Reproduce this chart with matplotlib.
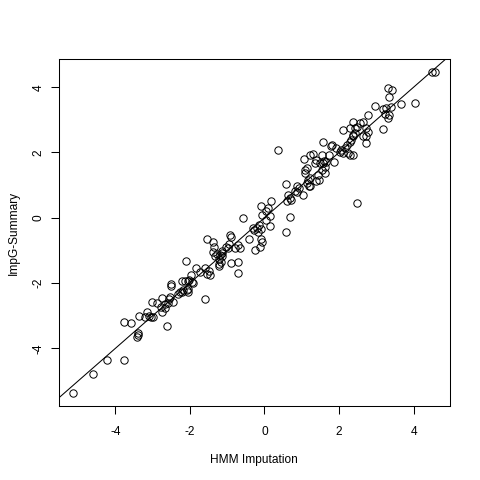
import matplotlib
matplotlib.use("Agg")
import matplotlib.pyplot as plt
import numpy as np

plt.rcParams['font.family'] = ['Liberation Sans', 'DejaVu Sans']

hmm_imputation = [
    -5.13, -4.60, -4.23, -3.78, -3.77, -3.58, -3.40, -3.40, -3.42, -3.36,
    -3.21, -3.16, -3.09, -3.03, -3.02, -2.99, -2.89, -2.76, -2.78, -2.76,
    -2.62, -2.66, -2.67, -2.58, -2.56, -2.53, -2.46, -2.52, -2.51, -2.33,
    -2.27, -2.22, -2.18, -2.20, -2.12, -2.05, -2.02, -1.96, -1.95, -1.91,
    -2.05, -2.08, -2.04, -2.10, -1.83, -1.73, -1.60, -1.50, -1.47, -1.53,
    -1.59, -1.53, -1.39, -1.36, -1.38, -1.32, -1.26, -1.20, -1.15, -1.13,
    -1.22, -1.22, -1.16, -1.13, -1.04, -0.98, -0.95, -0.93, -0.91, -0.80,
    -0.71, -0.90, -0.70, -0.72, -1.23, -0.66,
    -0.57, -0.41, -0.26, -0.13, -0.06, -0.10, -0.31, -0.28, -0.20, -0.14,
    -0.17, -0.08, 0.14, -0.08, 0.10, 0.05, -0.06, 0.15, 0.03, 0.17,
    0.57, 0.68, 0.57, 0.87, 0.83, 0.62, 0.68, 0.61, 0.72, 0.36,
    0.86, 0.93, 1.03, 1.20, 1.13, 1.17, 1.08, 1.10, 1.13, 1.05,
    1.21, 1.29, 1.39, 1.35, 1.48, 1.54, 1.57, 1.66, 1.72, 1.62,
    1.44, 1.46, 1.86, 1.82, 1.57, 1.78, 1.91, 2.02, 2.06, 2.11,
    2.15, 2.21, 2.29, 2.33, 2.38, 2.42, 2.47, 2.38, 2.11, 2.24,
    2.49, 1.21, 1.38, 1.21, 1.55, 1.59, 1.62,
    4.48, 4.58, 3.30, 3.42, 3.33, 2.96, 3.18, 3.27, 3.40, 3.67,
    4.03, 3.23, 3.33, 3.31, 3.18, 2.78, 2.64, 2.55, 2.42, 2.29,
    2.73, 2.78, 2.73, 2.64, 2.73, 2.38, 2.38, 2.29,
]

impg_summary = [
    -5.37, -4.79, -4.37, -4.35, -3.18, -3.21, -3.53, -3.60, -3.66, -3.01,
    -3.03, -2.87, -3.00, -3.03, -2.59, -3.05, -2.61, -2.47, -2.73, -2.87,
    -3.32, -2.64, -2.75, -2.61, -2.48, -2.43, -2.59, -2.02, -2.09, -2.32,
    -2.26, -2.26, -2.22, -1.94, -1.93, -1.95, -1.89, -1.74, -1.96, -2.00,
    -2.18, -2.22, -2.28, -1.31, -1.55, -1.67, -1.55, -1.62, -1.74, -1.72,
    -2.48, -0.64, -0.74, -0.88, -1.06, -1.16, -1.10, -1.14, -1.08, -1.18,
    -1.25, -1.41, -1.35, -1.03, -0.88, -0.93, -0.80, -0.54, -0.60, -0.93,
    -0.82, -1.37, -1.35, -1.69, -1.49, -0.91,
    0.00, -0.65, -1.00, -0.90, -0.74, -0.65, -0.31, -0.37, -0.31, -0.21,
    -0.42, -0.34, -0.24, 0.37, 0.30, 0.21, 0.09, 0.04, -0.06, 0.52,
    -0.44, 0.01, 1.03, 0.98, 0.83, 0.70, 0.60, 0.50, 0.55, 2.09,
    0.80, 0.91, 0.70, 0.98, 1.08, 1.16, 1.37, 1.47, 1.52, 1.80,
    1.93, 1.95, 1.77, 1.67, 1.67, 1.91, 1.67, 1.72, 1.93, 1.37,
    1.31, 1.16, 1.70, 2.23, 2.33, 2.20, 2.13, 2.03, 2.08, 1.98,
    2.13, 2.23, 2.33, 2.39, 2.49, 2.59, 2.79, 2.94, 2.69, 1.98,
    0.45, 1.21, 1.14, 0.96, 1.47, 1.74, 1.57,
    4.47, 4.47, 3.97, 3.91, 3.69, 3.43, 3.32, 3.35, 3.40, 3.49,
    3.51, 3.17, 3.15, 3.05, 2.71, 3.15, 2.94, 2.90, 2.74, 2.74,
    2.76, 2.64, 2.49, 2.52, 2.28, 2.54, 1.93, 1.93,
]

ticks = [-4, -2, 0, 2, 4]
tick_labels = ["-4", "-2", "0", "2", "4"]

fig = plt.figure(figsize=(4.8, 4.8), dpi=100)
ax = fig.add_axes([0.1223, 0.1542, 0.8146, 0.7229])

ax.plot(hmm_imputation, impg_summary, linestyle='none', marker='o',
        markersize=5.3, markerfacecolor='none', markeredgecolor='black',
        markeredgewidth=0.7)
ax.margins(0.04)
ax.axline((0, 0), slope=1, color='black', linewidth=0.75)

ax.set_xticks(ticks)
ax.set_xticklabels(tick_labels)
ax.set_yticks(ticks)
ax.set_yticklabels(tick_labels, rotation=90, va='center')

ax.tick_params(axis='both', direction='out', length=5.5, width=0.75,
               labelsize=8.6, colors='black')
ax.tick_params(axis='x', pad=9)
ax.tick_params(axis='y', pad=4.5)

for s in ax.spines.values():
    s.set_linewidth(0.75)
    s.set_color('black')

ax.set_xlabel("HMM Imputation", fontsize=8.6)
ax.set_ylabel("ImpG-Summary", fontsize=8.6)
ax.xaxis.set_label_coords(0.5, -0.138)
ax.yaxis.set_label_coords(-0.10, 0.5)

fig.savefig("out.png", dpi=100, facecolor='white')
